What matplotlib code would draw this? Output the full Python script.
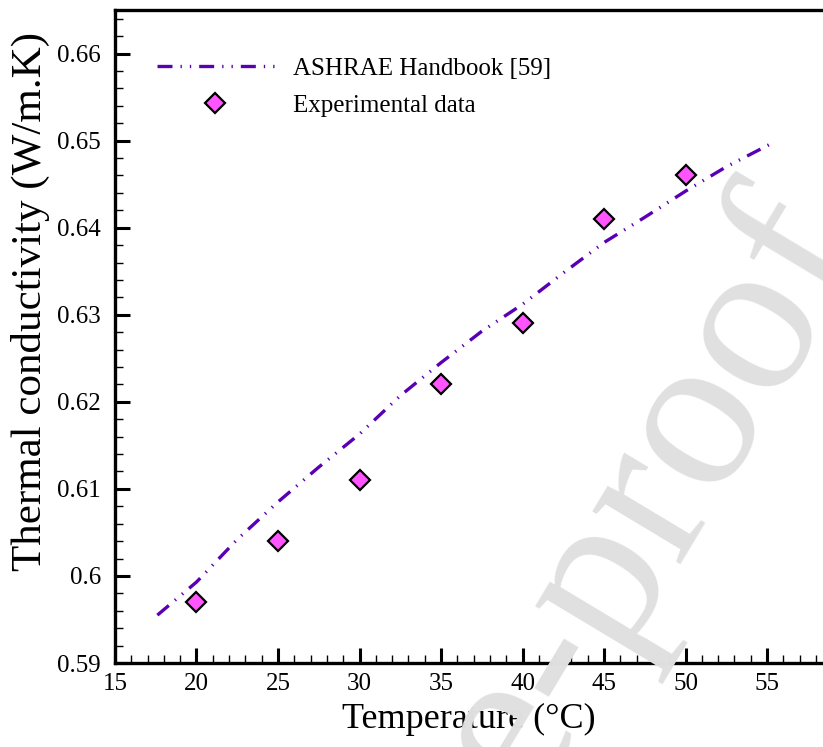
import matplotlib
matplotlib.use("Agg")
import matplotlib.pyplot as plt
from matplotlib.ticker import MultipleLocator

plt.rcParams['font.family'] = ['Liberation Serif', 'DejaVu Serif']

# ASHRAE Handbook [59] curve
ashrae_t = [17.6, 20, 22.5, 25, 27.5, 30, 32.5, 35, 37.5, 40, 42.5, 45, 47.5, 50, 52.5, 55.3]
ashrae_k = [0.5955, 0.5993, 0.6042, 0.6085, 0.6125, 0.6163, 0.6207, 0.6245, 0.6281, 0.6312,
            0.6348, 0.6383, 0.6412, 0.6442, 0.6470, 0.6497]

# Experimental data
exp_t = [20, 25, 30, 35, 40, 45, 50]
exp_k = [0.597, 0.604, 0.611, 0.622, 0.629, 0.641, 0.646]

fig = plt.figure(figsize=(8.23, 7.47), dpi=100)
ax = fig.add_axes([0.1397, 0.1124, 0.8603, 0.8742])

# watermark
fig.text(1.056, 0.665, "Journal Pre-proof", rotation=59, rotation_mode='anchor',
         ha='right', va='baseline', fontsize=160, color='#e0e0e0', zorder=0)
ax.set_facecolor('none')

ax.plot(ashrae_t, ashrae_k, color='#5a00b4', lw=2.4,
        dashes=(4.5, 2.4, 0.4, 2.4, 0.4, 2.4), label='ASHRAE Handbook [59]')
ax.plot(exp_t, exp_k, ls='none', marker='D', ms=10, mfc='#ff55ff', mec='black',
        mew=1.6, label='Experimental data')

ax.set_xlim(15, 58.43)
ax.set_ylim(0.59, 0.665)
ax.xaxis.set_major_locator(MultipleLocator(5))
ax.xaxis.set_minor_locator(MultipleLocator(1))
ax.yaxis.set_minor_locator(MultipleLocator(0.002))
ax.set_yticks([0.59, 0.60, 0.61, 0.62, 0.63, 0.64, 0.65, 0.66])
ax.set_yticklabels(['0.59', '0.6', '0.61', '0.62', '0.63', '0.64', '0.65', '0.66'])

ax.tick_params(which='major', direction='in', length=11, width=2.2, labelsize=18)
ax.tick_params(which='minor', direction='in', length=6, width=1)
ax.tick_params(axis='y', pad=10)
ax.tick_params(axis='x', pad=7)
for s in ['left', 'bottom', 'top']:
    ax.spines[s].set_linewidth(2.4)
ax.spines['right'].set_visible(False)

ax.set_xlabel('Temperature (°C)', fontsize=26, labelpad=6)
ax.set_ylabel('Thermal conductivity (W/m.K)', fontsize=31)
ax.yaxis.set_label_coords(-0.092, 0.553)

ax.legend(loc='upper left', bbox_to_anchor=(0.041, 0.947), frameon=False, fontsize=18,
          borderpad=0, handlelength=4.7, handletextpad=0.75, labelspacing=0.6)

fig.savefig('out.png', dpi=100)
